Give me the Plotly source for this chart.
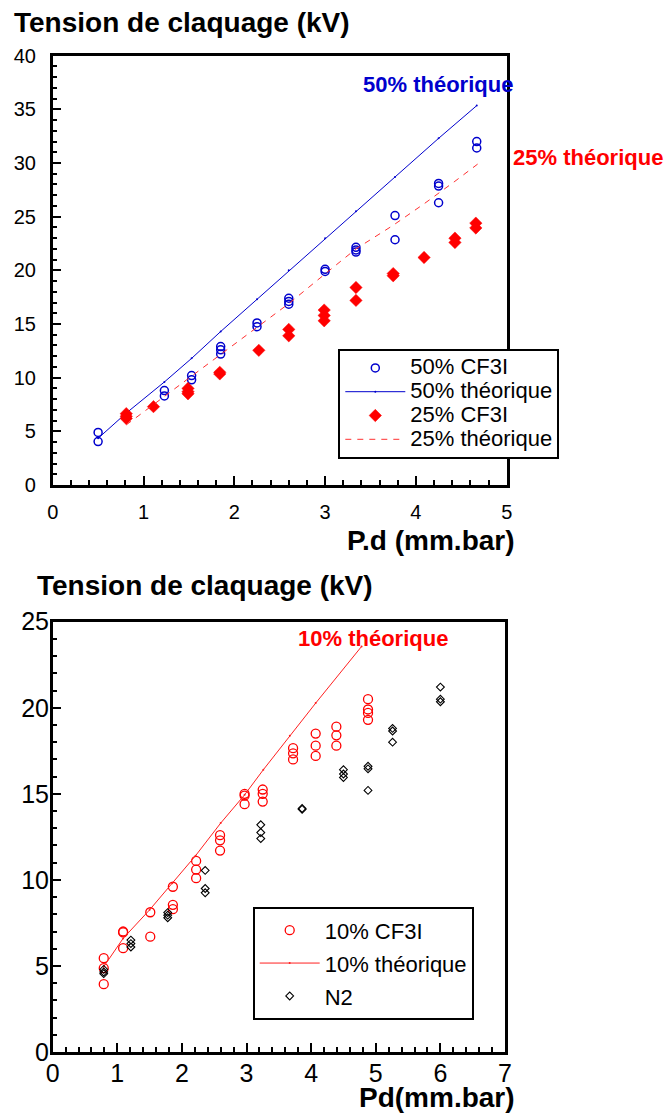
import plotly.graph_objects as go

W, H = 665, 1117

# ---------------- Top chart data ----------------
x50_cf3i = [0.5, 0.5, 1.23, 1.23, 1.53, 1.53, 1.85, 1.85, 1.85, 2.25, 2.25,
            2.6, 2.6, 2.6, 3.0, 3.0, 3.34, 3.34, 3.34, 3.77, 3.77,
            4.25, 4.25, 4.25, 4.67, 4.67]
y50_cf3i = [4.9, 4.05, 8.8, 8.3, 10.2, 9.8, 12.9, 12.6, 12.2, 15.1, 14.75,
            17.4, 17.1, 16.85, 20.1, 19.9, 22.15, 21.9, 21.7, 25.1, 22.85,
            28.1, 27.85, 26.3, 32.0, 31.4]

x50_theo = [0.5, 0.81, 1.23, 1.53, 1.85, 2.25, 2.6, 3.0, 3.34, 3.77, 4.25, 4.67]
y50_theo = [4.35, 6.7, 9.6, 11.8, 14.3, 17.3, 20.0, 23.0, 25.5, 28.7, 32.3, 35.35]

x25_cf3i = [0.81, 0.81, 0.81, 1.11, 1.49, 1.49, 1.49, 1.84, 1.84, 2.27,
            2.6, 2.6, 2.99, 2.99, 2.99, 3.34, 3.34, 3.75, 3.75, 4.09,
            4.43, 4.43, 4.66, 4.66]
y25_cf3i = [6.65, 6.4, 6.2, 7.3, 9.0, 8.7, 8.5, 10.5, 10.35, 12.55,
            14.5, 13.9, 16.3, 15.8, 15.3, 18.4, 17.2, 19.7, 19.5, 21.2,
            23.0, 22.6, 24.4, 23.95]

x25_theo = [0.81, 1.11, 1.49, 1.84, 2.27, 2.6, 2.99, 3.34, 3.75, 4.09, 4.43, 4.68]
y25_theo = [5.6, 7.5, 9.9, 12.1, 14.8, 16.9, 19.6, 22.0, 24.2, 26.2, 28.3, 29.9]

# ---------------- Bottom chart data ----------------
x10_cf3i = [0.79, 0.79, 0.79, 1.09, 1.09, 1.09, 1.51, 1.51, 1.86, 1.86, 1.86,
            2.22, 2.22, 2.22, 2.59, 2.59, 2.59, 2.97, 2.97, 2.97,
            3.25, 3.25, 3.25, 3.72, 3.72, 3.72, 4.07, 4.07, 4.07,
            4.39, 4.39, 4.39, 4.88, 4.88, 4.88, 4.88]
y10_cf3i = [5.45, 4.87, 3.94, 7.0, 6.95, 6.03, 8.12, 6.7, 9.6, 8.55, 8.3,
            11.1, 10.6, 10.1, 12.6, 12.3, 11.7, 15.0, 14.9, 14.4,
            15.25, 15.0, 14.55, 17.65, 17.35, 17.0, 18.5, 17.8, 17.2,
            18.9, 18.4, 17.8, 20.5, 19.9, 19.7, 19.3]

x10_theo = [0.79, 1.09, 1.5, 1.85, 2.21, 2.6, 2.97, 3.26, 3.67, 4.07, 4.78]
y10_theo = [4.96, 6.6, 8.26, 9.8, 11.4, 13.3, 14.94, 16.4, 18.37, 20.27, 23.56]

x_n2 = [0.79, 0.79, 0.79, 1.21, 1.21, 1.21, 1.78, 1.78, 1.78, 2.36, 2.36, 2.36,
        3.22, 3.22, 3.22, 3.86, 3.86, 4.5, 4.5, 4.5, 4.88, 4.88, 4.88,
        5.26, 5.26, 5.26, 6.0, 6.0, 6.0]
y_n2 = [4.8, 4.65, 4.55, 6.5, 6.3, 6.1, 8.1, 7.95, 7.8, 10.55, 9.5, 9.25,
        13.2, 12.75, 12.4, 14.15, 14.1, 16.4, 16.15, 15.95, 16.6, 16.45, 15.2,
        18.8, 18.65, 18.0, 21.2, 20.5, 20.35]

top_x_ticks = [0, 1, 2, 3, 4, 5]
top_y_ticks = [0, 5, 10, 15, 20, 25, 30, 35, 40]
bot_x_ticks = [0, 1, 2, 3, 4, 5, 6, 7]
bot_y_ticks = [0, 5, 10, 15, 20, 25]

BLUE = "#0000cd"
RED = "#ff0000"
FONT = "Arial, Liberation Sans, sans-serif"


def lg(text, size):
    return f'<span style="font-size:{size}px">{text}</span>'


fig = go.Figure()

# Top chart traces
fig.add_trace(go.Scatter(x=x50_cf3i, y=y50_cf3i, mode="markers", name=lg("50% CF3I", 22),
                         marker=dict(symbol="circle-open", size=8, color=BLUE, line=dict(width=1.5, color=BLUE)),
                         xaxis="x", yaxis="y", legend="legend"))
fig.add_trace(go.Scatter(x=x50_theo, y=y50_theo, mode="lines+markers", name=lg("50% théorique", 22),
                         line=dict(color=BLUE, width=1), marker=dict(size=2, color=BLUE),
                         xaxis="x", yaxis="y", legend="legend"))
fig.add_trace(go.Scatter(x=x25_cf3i, y=y25_cf3i, mode="markers", name=lg("25% CF3I", 22),
                         marker=dict(symbol="diamond", size=9.5, color=RED, line=dict(width=0.5, color=RED)),
                         xaxis="x", yaxis="y", legend="legend"))
fig.add_trace(go.Scatter(x=x25_theo, y=y25_theo, mode="lines", name=lg("25% théorique", 22),
                         line=dict(color="#ff3030", width=1, dash="6px,6px"),
                         xaxis="x", yaxis="y", legend="legend"))

# Bottom chart traces
fig.add_trace(go.Scatter(x=x10_cf3i, y=y10_cf3i, mode="markers", name=lg("10% CF3I", 22),
                         marker=dict(symbol="circle-open", size=9, color=RED, line=dict(width=1.3, color=RED)),
                         xaxis="x2", yaxis="y2", legend="legend2"))
fig.add_trace(go.Scatter(x=x10_theo, y=y10_theo, mode="lines+markers", name=lg("10% théorique", 22),
                         line=dict(color="#ff2020", width=1), marker=dict(size=2, color="#ff2020"),
                         xaxis="x2", yaxis="y2", legend="legend2"))
fig.add_trace(go.Scatter(x=x_n2, y=y_n2, mode="markers", name=lg("N2", 22),
                         marker=dict(symbol="diamond-open", size=6, color="black", line=dict(width=1.1, color="black")),
                         xaxis="x2", yaxis="y2", legend="legend2"))


def px_x(p):
    return p / W


def px_y(p):
    return 1 - p / H


def axis(size, standoff, minor_dtick, **kw):
    d = dict(showgrid=False, zeroline=False, showline=True, linecolor="black", linewidth=2.5,
             mirror=True, ticks="inside", tickcolor="black", tickwidth=2, ticklen=9,
             automargin=False, ticklabelstandoff=standoff,
             tickfont=dict(family=FONT, color="black", size=size),
             minor=dict(dtick=minor_dtick, ticks="inside", ticklen=5, tickwidth=1.5, tickcolor="black"))
    d.update(kw)
    return d


fig.update_layout(
    width=W, height=H,
    margin=dict(l=0, r=0, t=0, b=0, autoexpand=False),
    paper_bgcolor="white", plot_bgcolor="white",
    font=dict(family=FONT, color="black"),
    xaxis=axis(20, 7, 0.2, domain=[px_x(52.7), px_x(506.7)], range=[0, 5], anchor="y",
               tickvals=top_x_ticks),
    yaxis=axis(20, 10, 1, domain=[px_y(485), px_y(55.7)], range=[0, 40], anchor="x",
               tickvals=top_y_ticks),
    xaxis2=axis(25, -3, 0.2, domain=[px_x(52.7), px_x(505)], range=[0, 7], anchor="y2",
                tickvals=bot_x_ticks),
    yaxis2=axis(25, -4, 1, domain=[px_y(1052), px_y(621.7)], range=[0, 25], anchor="x2",
                tickvals=bot_y_ticks),
    legend=dict(x=px_x(338.3), y=px_y(349), xanchor="left", yanchor="top",
                bgcolor="white", bordercolor="black", borderwidth=2,
                font=dict(family=FONT, size=16, color="black"), itemwidth=60),
    legend2=dict(x=px_x(252.7), y=px_y(906.7), xanchor="left", yanchor="top",
                 bgcolor="white", bordercolor="black", borderwidth=2,
                 font=dict(family=FONT, size=23, color="black"), itemwidth=60),
    showlegend=True,
)

bold = dict(family=FONT, size=28, color="black")
annots = [
    dict(text="<b>Tension de claquage (kV)</b>", x=px_x(12), y=px_y(22), xanchor="left", font=bold),
    dict(text="<b>P.d (mm.bar)</b>", x=px_x(517), y=px_y(540), xanchor="right", font=bold),
    dict(text="<b>Tension de claquage (kV)</b>", x=px_x(35), y=px_y(585), xanchor="left", font=bold),
    dict(text="<b>Pd(mm.bar)</b>", x=px_x(517), y=px_y(1097), xanchor="right", font=bold),
    dict(text="<b>50% théorique</b>", x=px_x(361), y=px_y(84), xanchor="left",
         font=dict(family=FONT, size=22, color=BLUE)),
    dict(text="<b>25% théorique</b>", x=px_x(511), y=px_y(157), xanchor="left",
         font=dict(family=FONT, size=22, color=RED)),
    dict(text="<b>10% théorique</b>", x=px_x(296), y=px_y(638), xanchor="left",
         font=dict(family=FONT, size=22, color=RED)),
]
for a in annots:
    fig.add_annotation(xref="paper", yref="paper", yanchor="middle", showarrow=False, **a)

fig.write_html("out.html", config={"displayModeBar": False},
               post_script="document.body.style.margin='0';document.body.style.padding='0';"
                           "document.body.style.overflow='hidden';")
